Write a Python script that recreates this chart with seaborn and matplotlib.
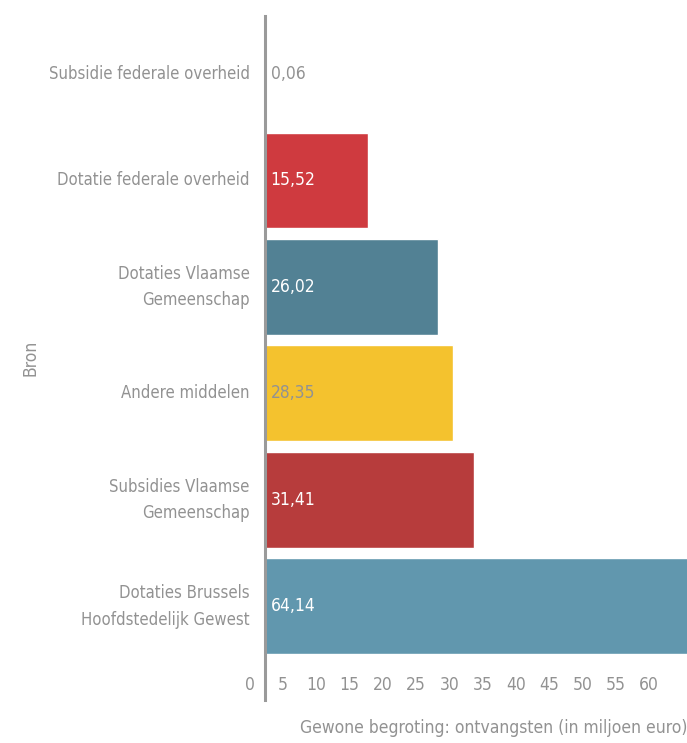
import matplotlib
matplotlib.use("Agg")
import matplotlib.pyplot as plt
import matplotlib.transforms as mtransforms
import seaborn as sns
import pandas as pd
import numpy as np

# data
sources = [
    "Subsidie federale overheid",
    "Dotatie federale overheid",
    "Dotaties Vlaamse\nGemeenschap",
    "Andere middelen",
    "Subsidies Vlaamse\nGemeenschap",
    "Dotaties Brussels\nHoofdstedelijk Gewest",
]
amounts = [0.06, 15.52, 26.02, 28.35, 31.41, 64.14]
bar_colors = ["#f4c22e", "#cf3a3f", "#528194", "#f4c22e", "#b73c3c", "#6197ae"]
label_colors = ["#929292", "white", "white", "#929292", "white", "white"]
x_ticks = list(range(0, 65, 5))

df = pd.DataFrame({"Bron": sources, "Bedrag": amounts})

sns.set_theme(style="white")
plt.rcParams["font.family"] = ["DejaVu Sans"]
plt.rcParams["font.stretch"] = "condensed"
grey = "#929292"
fs = 12.5

fig = plt.figure(figsize=(6.87, 7.43), dpi=100)
ax = fig.add_axes([265 / 687, 1 - 700 / 743, 1 - 265 / 687, (700 - 16) / 743])

sns.barplot(data=df, x="Bedrag", y="Bron", hue="Bron", palette=bar_colors,
            legend=False, orient="h", width=0.9, saturation=1, ax=ax)

ax.set_xlim(0, 63.5)
ax.set_ylim(5.88, -0.545)

for i, (val, col) in enumerate(zip(amounts, label_colors)):
    ax.annotate(f"{val:.2f}".replace(".", ","), xy=(0, i), xytext=(4, 0),
                textcoords="offset points", ha="left", va="center",
                color=col, fontsize=fs)

# spines
for s in ["top", "right", "bottom"]:
    ax.spines[s].set_visible(False)
ax.spines["left"].set_color("#9a9a9a")
ax.spines["left"].set_linewidth(2.2)

# x ticks drawn inside the axes, shifted a bit left like the original
ax.set_xticks(x_ticks)
ax.set_xticklabels([str(t) for t in x_ticks])
ax.tick_params(axis="x", length=0, pad=-17, labelsize=fs, labelcolor=grey)
shift = mtransforms.ScaledTranslation(-15 / 100, 0, fig.dpi_scale_trans)
for lbl in ax.get_xticklabels():
    lbl.set_transform(lbl.get_transform() + shift)

ax.tick_params(axis="y", length=0, pad=11, labelsize=12, labelcolor=grey)
for lbl in ax.get_yticklabels():
    lbl.set_linespacing(1.6)
    lbl.set_horizontalalignment("right")
    lbl.set_multialignment("right")
    lbl.set_verticalalignment("center")

ax.set_xlabel("Gewone begroting: ontvangsten (in miljoen euro)", color=grey,
              fontsize=fs, loc="right", labelpad=14)
ax.set_ylabel("Bron", color=grey, fontsize=fs)
ax.yaxis.set_label_coords(-0.535, 0.5)

fig.savefig("out.png", dpi=100)
